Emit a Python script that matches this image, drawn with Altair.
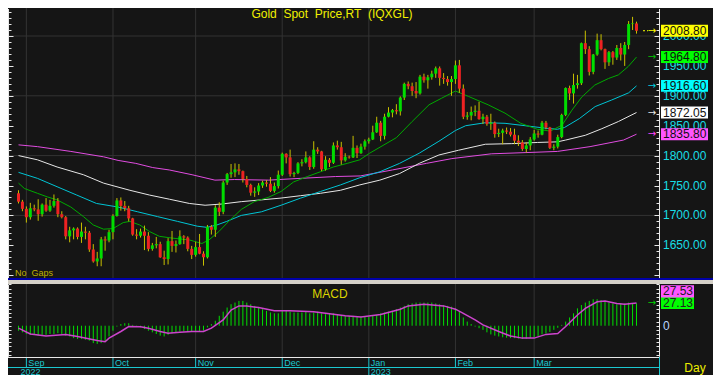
import altair as alt
import pandas as pd

# ---------------- data ----------------
dates = pd.bdate_range("2022-08-30", "2023-04-06").strftime("%Y-%m-%d").tolist()

opens = [1737,1723,1711,1697,1712,1710,1702,1718,1708,1716,
         1724,1702,1697,1665,1675,1678,1664,1673,1671,1643,
         1623,1628,1660,1658,1672,1699,1725,1716,1712,1695,
         1668,1666,1673,1666,1644,1650,1652,1630,1627,1657,
         1649,1652,1665,1663,1644,1634,1647,1636,1630,1681,
         1676,1713,1706,1755,1769,1772,1777,1774,1761,1751,
         1738,1740,1750,1755,1753,1741,1749,1768,1803,1797,
         1769,1771,1787,1789,1797,1781,1810,1807,1777,1793,
         1788,1817,1814,1792,1798,1797,1813,1804,1815,1824,
         1827,1839,1855,1833,1865,1872,1876,1874,1897,1920,
         1916,1908,1904,1932,1926,1931,1937,1946,1930,1928,
         1923,1928,1951,1912,1865,1867,1873,1875,1861,1865,
         1853,1855,1836,1838,1842,1840,1835,1825,1822,1811,
         1817,1827,1837,1835,1855,1847,1813,1815,1831,1868,
         1913,1904,1918,1921,1988,1978,1940,1969,1993,1978,
         1956,1973,1964,1980,1969,1985,2020,2021]
highs = [1742,1726,1715,1721,1718,1727,1720,1729,1726,1735,
         1729,1707,1699,1681,1680,1680,1688,1681,1674,1652,
         1639,1664,1665,1676,1702,1729,1730,1724,1716,1696,
         1677,1678,1683,1672,1654,1664,1656,1641,1662,1674,
         1658,1675,1667,1665,1649,1656,1669,1640,1684,1684,
         1717,1722,1758,1771,1786,1787,1786,1775,1766,1753,
         1747,1754,1758,1759,1764,1755,1775,1805,1804,1810,
         1773,1789,1794,1807,1799,1824,1814,1808,1799,1796,
         1822,1825,1823,1804,1800,1833,1817,1820,1827,1830,
         1850,1865,1858,1870,1881,1878,1886,1899,1922,1924,
         1922,1923,1935,1937,1935,1942,1949,1949,1938,1933,
         1933,1959,1960,1919,1873,1882,1884,1890,1870,1868,
         1870,1857,1845,1845,1847,1846,1845,1834,1826,1822,
         1831,1843,1842,1858,1858,1848,1819,1835,1870,1914,
         1917,1937,1935,1989,2009,1983,1970,2004,2003,1979,
         1975,1975,1985,1988,1990,2025,2032,2024]
lows = [1720,1707,1688,1693,1707,1691,1698,1706,1706,1713,
        1697,1695,1660,1655,1660,1660,1654,1660,1639,1621,
        1615,1615,1641,1655,1660,1698,1708,1707,1690,1666,
        1660,1663,1642,1640,1641,1645,1629,1617,1618,1639,
        1638,1651,1652,1640,1627,1631,1635,1616,1628,1668,
        1664,1699,1702,1751,1763,1764,1768,1755,1747,1733,
        1731,1734,1746,1748,1739,1738,1745,1766,1787,1765,
        1764,1769,1782,1787,1776,1778,1803,1774,1775,1781,
        1786,1810,1785,1790,1795,1796,1796,1803,1810,1820,
        1826,1838,1824,1827,1864,1864,1869,1867,1893,1911,
        1900,1896,1902,1922,1912,1927,1930,1917,1920,1917,
        1900,1920,1905,1861,1860,1859,1866,1860,1853,1850,
        1843,1830,1831,1819,1836,1832,1819,1816,1808,1805,
        1809,1825,1830,1834,1844,1811,1809,1812,1829,1866,
        1893,1887,1912,1918,1970,1934,1936,1967,1976,1945,
        1950,1952,1960,1959,1950,1978,2010,2004]
closes = [1723,1711,1697,1712,1710,1702,1718,1708,1716,1724,
          1702,1697,1665,1675,1678,1664,1673,1671,1643,1623,
          1628,1660,1658,1672,1699,1725,1716,1712,1695,1668,
          1666,1673,1666,1644,1650,1652,1630,1627,1657,1649,
          1652,1665,1663,1644,1634,1647,1636,1630,1681,1676,
          1713,1706,1755,1769,1772,1777,1774,1761,1751,1738,
          1740,1750,1755,1753,1741,1749,1768,1803,1797,1769,
          1771,1787,1789,1797,1781,1810,1807,1777,1793,1788,
          1817,1814,1792,1798,1797,1813,1804,1815,1824,1827,
          1839,1855,1833,1865,1872,1876,1874,1897,1920,1916,
          1908,1904,1932,1926,1931,1937,1946,1930,1928,1923,
          1928,1951,1912,1865,1867,1873,1875,1861,1865,1853,
          1855,1836,1838,1842,1840,1835,1825,1822,1811,1817,
          1827,1837,1835,1855,1847,1813,1815,1831,1868,1913,
          1904,1918,1921,1988,1978,1940,1969,1993,1978,1956,
          1973,1964,1980,1969,1985,2020,2021,2008.8]

# moving-average lines (position index, value)
ma20_x = [0,1.5,4.8,7.3,9.8,13.3,16.5,19,21.6,24,26.6,28.3,30.8,33.3,35.8,39.1,43.4,46.6,48.4,50.9,
          53.4,56.6,59.9,63.4,66.7,69.9,73.4,76.7,80,83.5,86.7,89.2,96,100,104.3,107.5,111,114.3,119.3,123.6,
          127.6,131.8,135.1,138.1,140.6,143.1,146.4,149.9,152.4,154.9,157]
ma20_v = [1754,1745,1737,1731,1726,1714,1698,1684,1677,1678,1688,1690,1684,1673,1665,1662,1659,1653,1659,1673,
          1690,1710,1723,1730,1740,1756,1765,1773,1781,1787,1793,1804,1830,1857,1885,1896,1908,1899,1885,1871,
          1854,1844,1841,1851,1876,1898,1918,1929,1935,1949,1964.8]
ma50_x = [0,4.8,9.8,14.8,19.8,25.3,30.3,35.3,40.4,45.4,47.9,50.4,52.9,56.6,61.7,66.7,71.7,76.7,81.8,86.7,
          91.8,96.8,101.8,106.8,111,113.6,118.6,123.6,128.7,133.7,136.9,138.7,142.5,146.5,150.7,155,157]
ma50_v = [1772,1762,1748,1734,1720,1714,1706,1698,1690,1682,1680,1684,1690,1700,1706,1717,1729,1740,1751,1763,
          1773,1787,1804,1824,1842,1850,1855,1854,1850,1846,1844,1847,1862,1882,1893,1905,1916.6]
ma100_x = [0,4.8,9.8,16.5,21.6,28.3,33.3,38.4,43.4,47.4,51.6,56.6,61.7,66.7,71.7,76.7,81.8,86.7,91.8,96.8,
           101.8,106.8,111.8,118.6,125.2,131.9,136.9,139,144,148.2,152.4,157]
ma100_v = [1800,1793,1781,1768,1754,1742,1734,1727,1720,1717,1719,1723,1726,1729,1733,1737,1742,1751,1759,1770,
           1787,1801,1809,1819,1820,1822,1823,1826,1834,1845,1857,1872.05]
ma200_x = [0,4.8,13.3,21.6,25.3,29.8,34.1,38.3,44.1,49.9,54.9,63.5,71.7,80.5,86.8,95,103.6,110.1,120.1,128.7,
           136.9,145.2,153.7,157]
ma200_v = [1818,1815,1807,1798,1792,1787,1780,1776,1768,1759,1760,1759,1762,1765,1766,1776,1787,1795,1803,1805,
           1807,1815,1826,1835.8]

# MACD panel: daily bars and the signal line
macd = [-6,-8,-10,-11,-11,-12,-11,-11,-10,-10,
        -9,-10,-12,-13,-15,-16,-16,-17,-18,-21,
        -22,-21,-19,-13,-6,-1,2,3,3,1,
        -1,-2,-4,-6,-8,-10,-12,-13,-11,-9,
        -8,-7,-7,-7,-7,-7,-7,-6,-2,2,
        6,12,17,22,26,28,30,30,28,26,
        24,22,20,18,16,15,15,18,19,17,
        16,16,16,17,15,16,17,15,14,15,
        15,14,13,12,12,12,11,11,11,11,
        12,13,15,16,17,18,20,22,24,26,
        27,28,28,28,28,28,27,26,25,24,
        23,21,17,10,5,2,-1,-3,-5,-8,
        -10.5,-12,-13,-14,-14.5,-15,-15,-15.5,-16,-16,
        -15,-14,-12.5,-10.5,-9.5,-7.5,-5,-2.5,1,5,
        10,15,21,25,28,30,32,32,31,29,
        28,27,26,27,27,28,27,27.13]
sig_x = [0,3,7,12,15,20,22,23,26,28,31,33,36,38,41,44,47,49,52,54,56,58,61,65,69,75,80,83,87,92,
         97,99,103,108,111,113,116,118,122,125,128,131,134,137,139,142,144,147,149,152,154,157]
sig_v = [-3,-10,-12.5,-10.5,-13,-18,-19.4,-15,-7,-1,-1.2,-3,-7,-9,-8,-7,-7,-3,7,19,24,24,22,18,18,17,14,12,10.5,13.5,
         20,24,26,24,20,15,7,1,-7,-12.5,-15,-15,-10.5,-9.5,-1,13,21,29,30,27,26,27.53]

price_labels = [1650, 1700, 1750, 1800, 1850, 1900, 1950, 2000]
price_grid = [1700, 1800, 1900, 2000]
month_names = ["Sep", "Oct", "Nov", "Dec", "Jan", "Feb", "Mar"]
month_keys = ["2022-09", "2022-10", "2022-11", "2022-12", "2023-01", "2023-02", "2023-03"]
year_names = ["2022", "2023"]
year_keys = ["2022", "2023"]
last_vals = [2008.80, 1964.80, 1916.60, 1872.05, 1835.80]
last_bg = ["#ffff00", "#00ff00", "#00ffff", "#ffffff", "#ff55ff"]
last_arrow = ["#ffff00", "#00c000", "#00d0e0", "#e8e8e8", "#ff44ff"]
macd_last = [27.53, 27.13]

# ---------------- layout / style ----------------
W, H = 705, 367
FONT = "Liberation Sans"
DARK = "#151515"
GRID = "#333333"
AXW = "#e8e8e8"
CY = "#18dde6"
CY2 = "#1cc8d0"
UP = "#00dd00"
DOWN = "#ee2222"
WICK = "#c8c000"

N = len(dates)
xs = alt.Scale(domain=[0, N - 1], range=[5.5, 5.5 + 4 * (N - 1)])
ps = alt.Scale(domain=[1596, 2046], range=[269.6, 0.5])
ms = alt.Scale(domain=[-37, 50], range=[348.3, 276.4])
X = alt.X("i:Q", scale=xs, axis=None)

month_idx = [next(i for i, d in enumerate(dates) if d.startswith(k)) for k in month_keys]
year_idx = [next(i for i, d in enumerate(dates) if d.startswith(k)) for k in year_keys]

one = pd.DataFrame({"k": [0]})
cdf = pd.DataFrame({"i": list(range(N)), "d": dates, "o": opens, "h": highs, "l": lows, "c": closes})
mdf = pd.DataFrame({"i": list(range(N)), "m": macd, "z": [0] * N})
sdf = pd.DataFrame({"i": sig_x, "v": sig_v})
mon = pd.DataFrame({"i": month_idx, "t": month_names})
yr = pd.DataFrame({"i": year_idx, "t": year_names})
pg = pd.DataFrame({"p": price_grid})
pl = pd.DataFrame({"p": price_labels, "t": [f"{v:.2f}" for v in price_labels]})
lv = pd.DataFrame({"v": last_vals, "t": [f"{v:.2f}" for v in last_vals], "bg": last_bg, "ac": last_arrow})
lv["vt"] = lv["v"] + 10
lv["vb"] = lv["v"] - 10


def deco(x, x2, y, y2, color):
    return alt.Chart(one).mark_rect(color=color).encode(
        x=alt.value(x), x2=alt.value(x2), y=alt.value(y), y2=alt.value(y2))


def hrule(x, x2, y, color):
    return alt.Chart(one).mark_rule(color=color, strokeWidth=1).encode(
        x=alt.value(x), x2=alt.value(x2), y=alt.value(y))


def vrule(x, y, y2, color):
    return alt.Chart(one).mark_rule(color=color, strokeWidth=1).encode(
        x=alt.value(x), y=alt.value(y), y2=alt.value(y2))


def label(text, x, y, size, color, align="left", baseline="alphabetic"):
    return alt.Chart(one).mark_text(text=text, font=FONT, fontSize=size, color=color,
                                    align=align, baseline=baseline).encode(
        x=alt.value(x), y=alt.value(y))


def ma_line(xv, yv, color):
    df = pd.DataFrame({"i": xv, "v": yv})
    return alt.Chart(df).mark_line(color=color, strokeWidth=1).encode(
        x=X, y=alt.Y("v:Q", scale=ps, axis=None))


def tick_axis(values, scale, orient, offset, big_every=None):
    df = pd.DataFrame({"v": values})
    ts = 3 if big_every is None else {"condition": {"test": f"datum.value % {big_every} === 0", "value": 5}, "value": 3}
    return alt.Chart(df).mark_point(opacity=0, size=1).encode(
        x=alt.value(0),
        y=alt.Y("v:Q", scale=scale, axis=alt.Axis(
            orient=orient, offset=offset, values=values, labels=False, ticks=True,
            tickSize=ts, tickColor=AXW, tickWidth=1, domain=True, domainColor=AXW,
            domainWidth=1, grid=False, title=None, zindex=1)))


layers = []
# frame pieces
layers.append(deco(0, W, 270, 272, "#0000a8"))
layers.append(deco(0, W, 272, 276, "#d4d0c8"))

# gridlines
layers.append(alt.Chart(mon).mark_rule(color=GRID, strokeWidth=1).encode(
    x=X, y=alt.value(0), y2=alt.value(270)))
layers.append(alt.Chart(mon).mark_rule(color=GRID, strokeWidth=1).encode(
    x=X, y=alt.value(276), y2=alt.value(349)))
layers.append(alt.Chart(pg).mark_rule(color=GRID, strokeWidth=1).encode(
    y=alt.Y("p:Q", scale=ps, axis=None), x=alt.value(0), x2=alt.value(651)))

# moving averages
layers.append(ma_line(ma200_x, ma200_v, "#e04ce0"))
layers.append(ma_line(ma100_x, ma100_v, "#e6e6e6"))
layers.append(ma_line(ma50_x, ma50_v, "#00c4d4"))
layers.append(ma_line(ma20_x, ma20_v, "#00aa00"))

# candles
layers.append(alt.Chart(cdf).mark_rule(color=WICK, strokeWidth=1).encode(
    x=X, y=alt.Y("l:Q", scale=ps, axis=None), y2="h:Q"))
layers.append(alt.Chart(cdf).transform_filter("datum.c >= datum.o").mark_bar(size=3, color=UP).encode(
    x=X, y=alt.Y("o:Q", scale=ps, axis=None), y2="c:Q"))
layers.append(alt.Chart(cdf).transform_filter("datum.c < datum.o").mark_bar(size=3, color=DOWN).encode(
    x=X, y=alt.Y("o:Q", scale=ps, axis=None), y2="c:Q"))

# price axes (ticks) and labels
ptv = list(range(1600, 2050, 10))
layers.append(tick_axis(ptv, ps, "right", -W, 50))
layers.append(tick_axis(ptv, ps, "left", -651, 50))
layers.append(alt.Chart(pl).mark_text(font=FONT, fontSize=12, color=CY, align="left", baseline="middle").encode(
    x=alt.value(655), y=alt.Y("p:Q", scale=ps, axis=None), text="t:N"))

# last value boxes
layers.append(alt.Chart(lv).mark_rect().encode(
    x=alt.value(653), x2=alt.value(700), y=alt.Y("vt:Q", scale=ps, axis=None), y2="vb:Q",
    color=alt.Color("bg:N", scale=None)))
layers.append(alt.Chart(lv).mark_text(font=FONT, fontSize=12, color="#101010", align="left", baseline="middle").encode(
    x=alt.value(655), y=alt.Y("v:Q", scale=ps, axis=None), text="t:N"))
layers.append(alt.Chart(lv).mark_text(text="\u2192", font="DejaVu Sans", fontSize=10, align="center", baseline="middle").encode(
    x=alt.value(644), y=alt.Y("v:Q", scale=ps, axis=None), color=alt.Color("ac:N", scale=None)))
layers.append(alt.Chart(lv.head(1)).mark_rule(color="#ffff00", strokeWidth=1, strokeDash=[2, 2]).encode(
    x=alt.value(635), x2=alt.value(640), y=alt.Y("v:Q", scale=ps, axis=None)))

# MACD panel
layers.append(alt.Chart(mdf).mark_rule(color="#00e000", strokeWidth=1).encode(
    x=X, y=alt.Y("m:Q", scale=ms, axis=None), y2="z:Q"))
layers.append(alt.Chart(sdf).mark_line(color="#cc44cc", strokeWidth=1.5).encode(
    x=X, y=alt.Y("v:Q", scale=ms, axis=None)))
mtv = list(range(-35, 51, 5))
layers.append(tick_axis(mtv, ms, "right", -W))
layers.append(tick_axis(mtv, ms, "left", -651))
layers.append(alt.Chart(pd.DataFrame({"v": [0]})).mark_text(text="0", font=FONT, fontSize=12, color="#b8d4ff",
                                                              align="left", baseline="middle").encode(
    x=alt.value(655), y=alt.Y("v:Q", scale=ms, axis=None)))
mb = pd.DataFrame({"v": macd_last, "t": [f"{v:.2f}" for v in macd_last]})
mb["vt"] = mb["v"] + 7
mb["vb"] = mb["v"] - 7
layers.append(alt.Chart(mb.iloc[[0]]).mark_rect(color="#ff55ff", yOffset=-12).encode(
    x=alt.value(653), x2=alt.value(686), y=alt.Y("vt:Q", scale=ms, axis=None), y2="vb:Q"))
layers.append(alt.Chart(mb.iloc[[0]]).mark_text(font=FONT, fontSize=12, color="#202020", align="left",
                                                baseline="middle", yOffset=-12).encode(
    x=alt.value(655), y=alt.Y("v:Q", scale=ms, axis=None), text="t:N"))
layers.append(alt.Chart(mb.iloc[[1]]).mark_rect(color="#00ff00").encode(
    x=alt.value(653), x2=alt.value(686), y=alt.Y("vt:Q", scale=ms, axis=None), y2="vb:Q"))
layers.append(alt.Chart(mb.iloc[[1]]).mark_text(font=FONT, fontSize=12, color="#202020", align="left",
                                                baseline="middle").encode(
    x=alt.value(655), y=alt.Y("v:Q", scale=ms, axis=None), text="t:N"))
layers.append(alt.Chart(mb.iloc[[1]]).mark_text(text="\u2192", font="DejaVu Sans", fontSize=10, color="#00d000",
                                                align="center", baseline="middle").encode(
    x=alt.value(644), y=alt.Y("v:Q", scale=ms, axis=None)))

# date axis rows
layers.append(hrule(0, 652, 349.5, AXW))
layers.append(alt.Chart(mon).mark_rule(color=CY2, strokeWidth=1).encode(
    x=X, y=alt.value(350), y2=alt.value(359.5)))
layers.append(alt.Chart(mon).mark_text(font=FONT, fontSize=9, color=CY2, align="left", baseline="alphabetic", dx=2).encode(
    x=X, y=alt.value(358), text="t:N"))
layers.append(hrule(0, 652, 359.5, CY2))
layers.append(alt.Chart(yr.iloc[1:]).mark_rule(color=CY2, strokeWidth=1).encode(
    x=X, y=alt.value(359.5), y2=alt.value(367)))
layers.append(alt.Chart(yr).mark_text(font=FONT, fontSize=9, color=CY2, align="left", baseline="alphabetic", dx=2).encode(
    x=X, y=alt.value(366.5), text="t:N"))
layers.append(vrule(651.5, 349, 367, CY2))

# texts
layers.append(label("Gold\u00a0 Spot\u00a0 Price,RT\u00a0 (IQXGL)", 324, 10, 12, "#f0f000", align="center"))
layers.append(label("No\u00a0 Gaps", 7, 268, 9, "#c0b000"))
layers.append(label("MACD", 322, 290, 12, "#dcd400", align="center"))
layers.append(label("Day", 687, 364, 12, "#f0f000", align="center"))

chart = alt.layer(*layers).resolve_scale(y="independent").properties(
    width=W, height=H, padding=0, background="#d4d0c8",
    autosize=alt.AutoSizeParams(type="none"),
).configure_view(fill=DARK, stroke=None)

chart.save("out.html", embed_options={"renderer": "svg", "actions": False})
